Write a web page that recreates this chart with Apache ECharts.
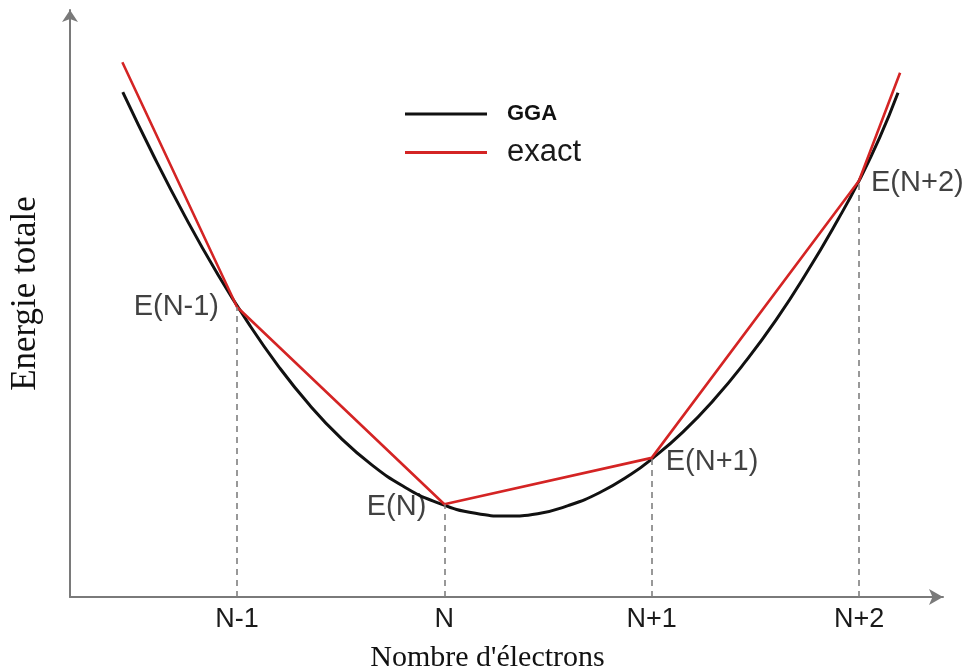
<!DOCTYPE html>
<html>
<head>
<meta charset="utf-8">
<script src="https://cdn.jsdelivr.net/npm/echarts@6/dist/echarts.min.js"></script>
<style>
  html, body { margin: 0; padding: 0; background: #fff; }
  #chart { width: 967px; height: 668px; }
</style>
</head>
<body>
<div id="chart"></div>
<script>
// Electron count on the x axis: 1 = N-1, 2 = N, 3 = N+1, 4 = N+2
const tickValues = [1, 2, 3, 4];
const tickLabels = ['N-1', 'N', 'N+1', 'N+2'];

// Total energy at integer electron counts (arbitrary units)
const pointX = [1, 2, 3, 4];
const pointE = [49.4, 15.8, 23.7, 70.9];
const pointLabels = ['E(N-1)', 'E(N)', 'E(N+1)', 'E(N+2)'];

// GGA: smooth convex curve
const ggaX = [0.449, 0.60, 0.75, 0.90, 1.05, 1.20, 1.35, 1.50, 1.65, 1.80, 1.95, 2.15, 2.30,
              2.45, 2.60, 2.75, 2.90, 3.00, 3.15, 3.30, 3.45, 3.60, 3.75, 3.90, 4.00, 4.10, 4.188];
const ggaE = [86.0, 75.0, 64.8, 55.4, 46.9, 39.3, 32.7, 27.1, 22.5, 18.9, 16.3, 14.25, 13.8,
              14.2, 15.6, 17.8, 20.9, 23.5, 28.1, 33.6, 40.0, 47.2, 55.4, 64.4, 70.9, 78.3, 85.9];

// Exact: straight segments joining the integer-N energies
const exactX = [0.447, 1, 2, 3, 4, 4.198];
const exactE = [91.1, 49.4, 15.8, 23.7, 70.9, 89.3];

const zip = (xs, ys) => xs.map((x, i) => [x, ys[i]]);

const labelFont = 'Liberation Sans, Arial, sans-serif';
const serifFont = 'Liberation Serif, Times New Roman, serif';

const labelPlacement = [
  { position: 'left', distance: 18, offset: [0, 0] },
  { position: 'left', distance: 18, offset: [0, 3] },
  { position: 'right', distance: 14, offset: [0, 4] },
  { position: 'right', distance: 12, offset: [0, 2] }
];

const chart = echarts.init(document.getElementById('chart'), null, { renderer: 'canvas' });

chart.setOption({
  animation: false,
  backgroundColor: '#ffffff',
  grid: { left: 70, right: 24, top: 10, bottom: 71, containLabel: false, outerBoundsMode: 'none' },
  legend: {
    orient: 'vertical',
    left: 405,
    top: 99,
    padding: 0,
    itemGap: 8,
    itemWidth: 82,
    itemHeight: 3,
    icon: 'rect',
    selectedMode: false,
    data: [
      { name: 'GGA', textStyle: { fontFamily: labelFont, fontWeight: 'bold', fontSize: 22, color: '#111', lineHeight: 30, padding: [0, 0, 0, 15] } },
      { name: 'exact', textStyle: { fontFamily: labelFont, fontSize: 31, color: '#1a1a1a', lineHeight: 30, padding: [0, 0, 0, 15] } }
    ]
  },
  xAxis: {
    type: 'value',
    min: 0.1945,
    max: 4.405,
    name: "Nombre d'électrons",
    nameLocation: 'middle',
    nameGap: 46,
    nameTextStyle: { fontFamily: serifFont, fontSize: 30, color: '#111', padding: [0, 38, 0, 0] },
    axisLine: {
      show: true,
      symbol: ['none', 'arrow'],
      symbolSize: [12, 14],
      lineStyle: { color: '#7a7a7a', width: 2 }
    },
    axisTick: { show: false },
    splitLine: { show: false },
    axisLabel: {
      customValues: tickValues,
      formatter: v => tickLabels[tickValues.indexOf(v)] || '',
      margin: 9,
      fontFamily: labelFont,
      fontSize: 27,
      color: '#1a1a1a'
    }
  },
  yAxis: {
    type: 'value',
    min: 0,
    max: 100,
    name: 'Energie totale',
    nameLocation: 'middle',
    nameGap: 27,
    nameTextStyle: { fontFamily: serifFont, fontSize: 35, color: '#111', padding: [0, 0, 0, 20] },
    axisLine: {
      show: true,
      symbol: ['none', 'arrow'],
      symbolSize: [12, 12],
      lineStyle: { color: '#7a7a7a', width: 2 }
    },
    axisTick: { show: false },
    axisLabel: { show: false },
    splitLine: { show: false }
  },
  series: [
    {
      name: 'GGA',
      type: 'line',
      data: zip(ggaX, ggaE),
      smooth: 0.5,
      showSymbol: false,
      color: '#111111',
      lineStyle: { color: '#111111', width: 3 },
      z: 2
    },
    {
      name: 'exact',
      type: 'line',
      data: zip(exactX, exactE),
      smooth: false,
      showSymbol: false,
      color: '#d42424',
      lineStyle: { color: '#d42424', width: 2.6 },
      z: 3
    },
    {
      name: 'points',
      type: 'scatter',
      symbolSize: 0,
      data: pointX.map((x, i) => ({
        value: [x, pointE[i]],
        label: {
          show: true,
          formatter: pointLabels[i],
          position: labelPlacement[i].position,
          distance: labelPlacement[i].distance,
          offset: labelPlacement[i].offset,
          fontFamily: labelFont,
          fontSize: 29,
          color: '#111'
        }
      })),
      markLine: {
        silent: true,
        symbol: ['none', 'none'],
        label: { show: false },
        lineStyle: { color: '#7f7f7f', width: 1.6, type: [6, 5] },
        data: pointX.map((x, i) => [{ coord: [x, 0] }, { coord: [x, pointE[i]] }])
      },
      z: 1
    }
  ]
});
</script>
</body>
</html>
